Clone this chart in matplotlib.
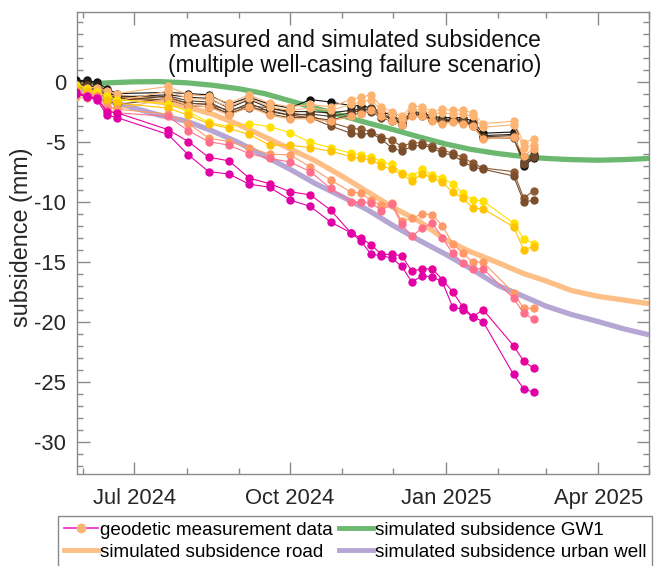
import numpy as np
import matplotlib
matplotlib.use("Agg")
import matplotlib.pyplot as plt
import matplotlib.dates as mdates
from matplotlib.lines import Line2D
from matplotlib.ticker import FixedLocator, MultipleLocator

plt.rcParams['font.family'] = ['Liberation Sans', 'DejaVu Sans']
plt.rcParams['axes.unicode_minus'] = False

# fechas de medicion (InSAR, cada 6/12 dias)
fechas_med = np.array(['2024-05-28', '2024-06-03', '2024-06-09', '2024-06-15', '2024-06-21',
                       '2024-07-21', '2024-08-02', '2024-08-14', '2024-08-26', '2024-09-07',
                       '2024-09-19', '2024-10-01', '2024-10-13', '2024-10-25', '2024-11-06',
                       '2024-11-12', '2024-11-18', '2024-11-24', '2024-11-30', '2024-12-06',
                       '2024-12-12', '2024-12-18', '2024-12-24', '2024-12-30', '2025-01-05',
                       '2025-01-11', '2025-01-17', '2025-01-23', '2025-02-10', '2025-02-16',
                       '2025-02-22'], dtype='datetime64[D]')

# series medidas (mm)
sandy1 = [-0.3, -0.5, -0.5, -0.8, -1.0, -0.4, -1.1, -1.2, -1.8, -1.1, -1.8, -2.1, -1.9, -2.1, -1.5, -1.3,
          -1.1, -2.1, -2.5, -2.9, -2.0, -2.1, -2.5, -2.3, -2.4, -2.4, -2.6, -3.5, -3.3, -5.1, -4.8]
sandy2 = [-0.9, -1.0, -0.8, -1.3, -1.6, -0.8, -1.4, -1.5, -2.1, -1.4, -2.1, -2.4, -2.2, -2.4, -1.9, -1.7,
          -1.5, -2.4, -2.7, -3.1, -2.3, -2.4, -2.7, -2.6, -2.7, -2.7, -2.9, -3.8, -3.6, -5.5, -5.3]
sandy3 = [-1.3, -1.4, -1.1, -2.0, -2.3, -1.4, -2.0, -2.1, -2.8, -2.1, -2.8, -3.1, -3.1, -3.3, -2.9, -2.7,
          -2.4, -2.9, -3.3, -3.6, -2.9, -2.9, -3.3, -3.5, -3.4, -3.5, -3.7, -4.8, -4.6, -6.2, -5.6]
negro1 = [0.1, 0.1, -0.05, -0.6, -1.0, -0.9, -1.0, -1.1, -1.9, -1.3, -1.9, -2.2, -1.5, -1.7, -2.0, -2.0,
          -2.2, -2.5, -2.8, -3.3, -2.6, -2.6, -2.9, -3.0, -3.0, -3.0, -3.3, -4.3, -4.2, -7.0, -6.4]
negro2 = [0.0, 0.0, -0.2, -0.8, -1.3, -1.1, -1.3, -1.4, -2.2, -1.5, -2.2, -2.5, -2.5, -2.6, -2.4, -2.3,
          -2.4, -2.8, -3.1, -3.5, -2.7, -2.8, -3.1, -3.3, -3.2, -3.3, -3.6, -4.5, -4.4, -6.8, -6.2]
cafe_osc1 = [-0.2, -0.3, -0.5, -1.2, -1.6, -1.2, -1.6, -1.7, -2.5, -1.8, -2.5, -2.8, -2.7, -2.9, -2.6, -2.4,
             -2.2, -2.7, -3.0, -3.4, -2.5, -2.6, -3.0, -3.2, -3.1, -3.2, -3.5, -4.6, -4.5, -6.6, -6.0]
cafe_osc2 = [-0.4, -0.6, -0.7, -1.5, -1.9, -1.4, -1.8, -1.9, -2.7, -2.0, -2.7, -3.0, -3.0, -3.2, -2.8, -2.6,
             -2.5, -3.0, -3.3, -3.6, -2.8, -2.9, -3.2, -3.4, -3.3, -3.4, -3.7, -4.7, -4.7, -6.9, -6.3]
cafe1 = [0.0, -0.2, -0.5, -0.9, -1.2, -1.3, -1.8, -1.9, -2.4, -2.0, -2.2, -2.6, -2.86, -3.4, -3.9, -3.97,
         -4.17, -4.6, -4.86, -5.4, -5.1, -5.1, -5.4, -5.7, -5.97, -6.3, -6.8, -7.2, -7.5, -9.7, -9.1]
cafe2 = [-0.1, -0.4, -0.7, -1.1, -1.4, -1.5, -2.0, -2.1, -2.6, -2.2, -2.4, -2.8, -3.0, -3.7, -4.3, -4.4,
         -4.3, -4.8, -5.5, -5.8, -5.4, -5.3, -5.5, -5.97, -6.1, -6.67, -7.1, -7.3, -7.86, -10.0, -9.9]
amarillo1 = [-0.3, -0.6, -0.9, -1.2, -1.5, -1.86, -2.5, -3.4, -3.75, -3.5, -3.75, -4.25, -5.05, -5.5, -5.97, -6.1,
             -6.3, -6.67, -6.9, -7.6, -7.9, -7.3, -7.8, -8.05, -8.5, -9.3, -9.86, -9.94, -11.8, -13.1, -13.5]
amarillo2 = [-0.5, -0.8, -1.1, -1.5, -1.8, -2.2, -2.8, -3.5, -3.9, -4.4, -5.3, -5.3, -5.5, -5.8, -6.25, -6.4,
             -6.5, -7.0, -7.3, -7.7, -8.3, -7.7, -8.0, -8.4, -9.2, -9.7, -10.55, -10.6, -12.1, -14.0, -13.75]
naranja1 = [-0.9, -1.1, -1.2, -2.1, -2.3, -2.7, -3.5, -4.7, -5.0, -5.5, -6.05, -6.1, -7.1, -8.2, -9.2, -9.3,
            -9.9, -10.3, -10.1, -11.6, -11.4, -11.0, -11.1, -12.0, -13.5, -14.3, -15.05, -15.05, -17.6, -18.9, -18.9]
rosa1 = [-1.0, -1.2, -1.3, -2.4, -2.6, -2.9, -4.1, -5.0, -5.3, -6.0, -6.4, -6.7, -7.5, -8.9, -10.0, -10.05,
         -10.1, -10.75, -10.2, -11.9, -12.9, -12.2, -11.8, -13.0, -14.3, -15.1, -15.6, -15.6, -18.05, -19.3, -19.8]
magenta1 = [-0.9, -1.2, -1.4, -2.5, -2.6, -4.0, -5.0, -6.3, -6.6, -8.05, -8.5, -9.17, -9.44, -10.7, -12.6, -13.05,
            -13.6, -14.4, -14.4, -14.5, -15.8, -15.6, -15.6, -16.5, -17.5, -18.75, -19.6, -19.0, -22.0, -23.3, -23.9]
magenta2 = [-1.0, -1.3, -1.5, -2.8, -3.0, -4.4, -6.1, -7.5, -7.7, -8.55, -8.8, -9.86, -10.4, -11.7, -12.6, -13.3,
            -14.4, -14.5, -14.7, -15.4, -16.7, -16.2, -16.25, -16.7, -18.75, -19.0, -19.6, -20.0, -24.4, -25.6, -25.9]

series_med = [(cafe1, '#8c5a32'), (cafe2, '#7a4e2c'),
              (negro1, '#111111'), (negro2, '#2a2018'), (cafe_osc1, '#5a3c24'), (cafe_osc2, '#6e4a2c'),
              (sandy1, '#fdb472'), (sandy2, '#fdb472'), (sandy3, '#fcaa68'),
              (amarillo1, '#ffe200'), (amarillo2, '#ffc400'),
              (naranja1, '#ff9966'), (rosa1, '#ff6f8c'),
              (magenta1, '#e8009c'), (magenta2, '#e000a8')]

# curvas simuladas
fechas_sim = np.array(['2024-05-28', '2024-06-01', '2024-06-16', '2024-07-01', '2024-07-16', '2024-08-01',
                       '2024-08-16', '2024-09-01', '2024-09-16', '2024-10-01', '2024-10-16', '2024-11-01',
                       '2024-11-16', '2024-12-01', '2024-12-16', '2025-01-01', '2025-01-16', '2025-02-01',
                       '2025-02-16', '2025-03-01', '2025-03-16', '2025-04-01', '2025-04-16', '2025-05-01'],
                      dtype='datetime64[D]')
sim_gw1 = [-0.28, -0.22, -0.1, -0.02, 0.0, -0.1, -0.3, -0.6, -1.0, -1.6, -2.2, -2.85,
           -3.45, -4.0, -4.6, -5.2, -5.65, -6.0, -6.25, -6.4, -6.5, -6.55, -6.5, -6.4]
sim_road = [-0.65, -0.8, -1.15, -1.45, -1.7, -2.1, -2.7, -3.6, -4.6, -5.6, -6.6, -7.9,
            -9.2, -10.5, -11.6, -13.2, -14.2, -15.1, -16.0, -16.6, -17.4, -17.9, -18.2, -18.5]
sim_urban = [-0.7, -0.9, -1.6, -2.2, -2.8, -3.3, -4.1, -5.1, -6.2, -7.3, -8.5, -9.6,
             -10.7, -12.0, -13.2, -14.4, -15.6, -17.0, -17.9, -18.7, -19.4, -20.0, -20.6, -21.1]

fig = plt.figure(figsize=(6.62, 5.66), dpi=100)
ax = fig.add_axes([0.1163, 0.1625, 0.8641, 0.8163])

col_gw1 = '#6cb870'
col_road = '#fdbf86'
col_urban = '#b6a6d4'

ax.plot(fechas_sim, sim_gw1, color=col_gw1, lw=3.8, zorder=2, solid_capstyle='butt')
ax.plot(fechas_sim, sim_road, color=col_road, lw=3.8, zorder=2, solid_capstyle='butt')
ax.plot(fechas_sim, sim_urban, color=col_urban, lw=3.8, zorder=2, solid_capstyle='butt')

for vals, c in series_med:
    ax.plot(fechas_med, vals, '-o', color=c, lw=0.8, ms=5, mec=c, mfc=c, zorder=3)

ax.set_xlim(np.datetime64('2024-05-28T07:00'), np.datetime64('2025-05-01'))
ax.set_ylim(-32.7, 5.8)

ax.xaxis.set_major_locator(mdates.MonthLocator(bymonth=[1, 4, 7, 10]))
ax.xaxis.set_minor_locator(mdates.MonthLocator())
ax.xaxis.set_major_formatter(mdates.DateFormatter('%b %Y'))
ax.yaxis.set_major_locator(FixedLocator([-30, -25, -20, -15, -10, -5, 0]))
ax.yaxis.set_minor_locator(MultipleLocator(1))

gris = '#8a8a8a'
for s in ax.spines.values():
    s.set_color(gris)
    s.set_linewidth(1.0)
ax.tick_params(which='both', direction='in', top=True, right=True, color=gris, width=1.0)
ax.tick_params(which='major', length=9, labelsize=15.8, labelcolor='#262626')
ax.tick_params(axis='x', which='major', pad=10)
ax.tick_params(axis='y', which='major', pad=8)
ax.tick_params(which='minor', length=4.5)

ax.set_ylabel('subsidence (mm)', fontsize=16.8, color='#262626')
ax.yaxis.set_label_coords(-0.077, 0.513)

ax.text(0.486, 0.912, 'measured and simulated subsidence\n(multiple well-casing failure scenario)',
        transform=ax.transAxes, ha='center', va='center', fontsize=16.4, linespacing=1.1,
        color='#111111')

h_geo = Line2D([], [], color='#ee22cc', lw=1.2, marker='o', ms=6, mfc='#fdb472', mec='#fdb472')
h_road = Line2D([], [], color=col_road, lw=3.5)
h_gw1 = Line2D([], [], color=col_gw1, lw=3.5)
h_urban = Line2D([], [], color=col_urban, lw=3.5)
leg = fig.legend([h_geo, h_road, h_gw1, h_urban],
                 ['geodetic measurement data', 'simulated subsidence road',
                  'simulated subsidence GW1', 'simulated subsidence urban well'],
                 loc='upper left', bbox_to_anchor=(0.0876, 0.0883), ncol=2, fontsize=13.6,
                 frameon=True, fancybox=False, edgecolor=gris, framealpha=1,
                 handlelength=1.8, handletextpad=0.1, columnspacing=0.35,
                 labelspacing=0.25, borderpad=0.3, borderaxespad=0)
leg.get_frame().set_linewidth(1.0)

fig.savefig('out.png', dpi=100)
